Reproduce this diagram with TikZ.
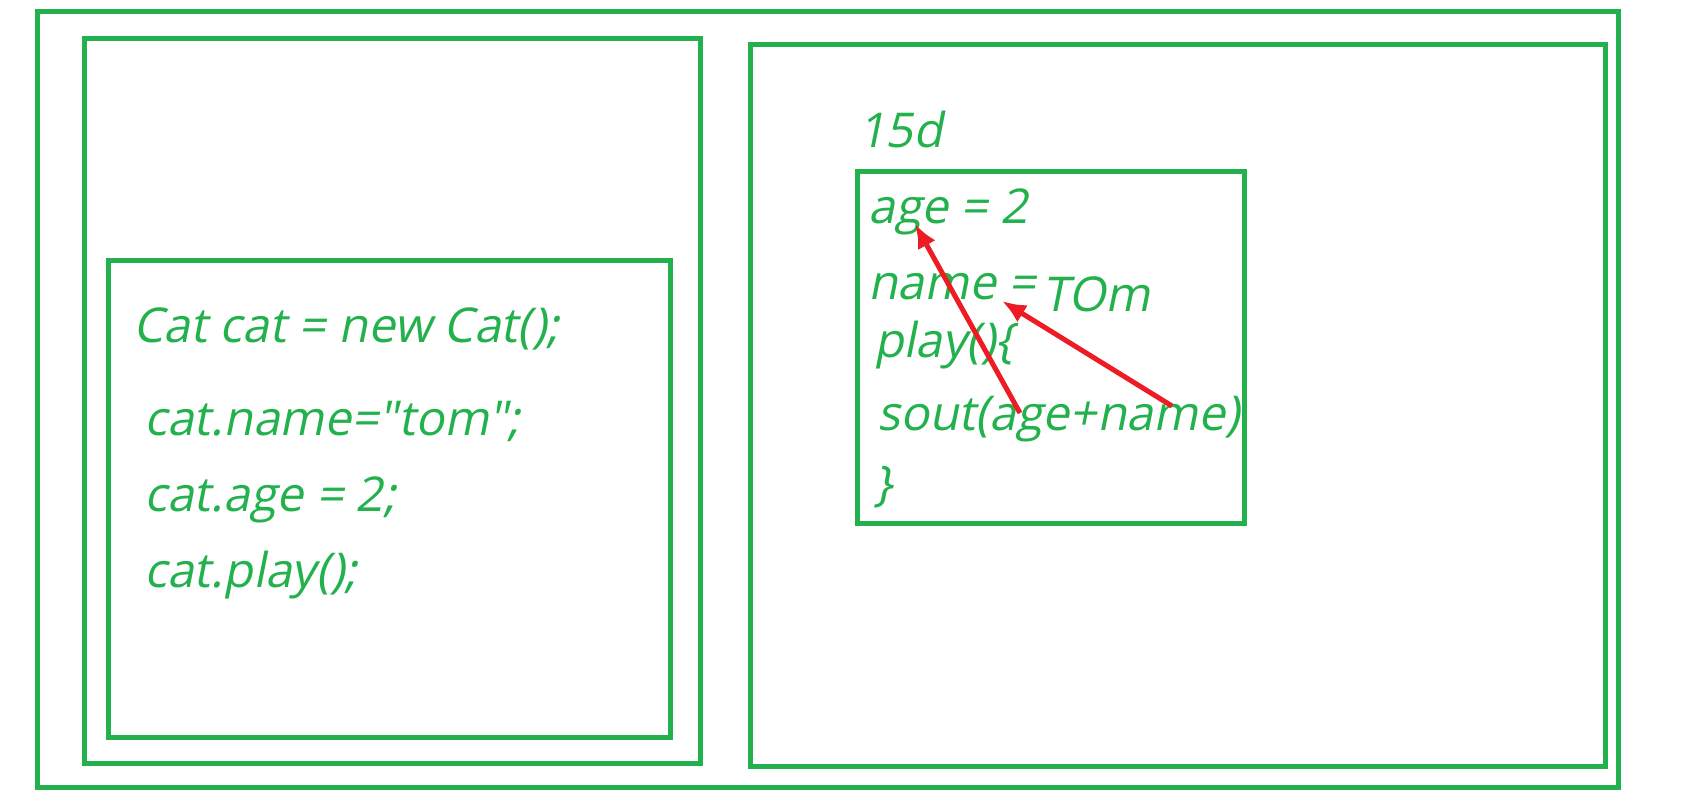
\documentclass[tikz,border=0pt]{standalone}
\usepackage{fontspec}
\setmainfont{Open Sans}[FakeSlant=0.2]
\usepackage{tikz}
\usetikzlibrary{arrows.meta}
\definecolor{boxgreen}{RGB}{34,177,76}
\definecolor{arrred}{RGB}{237,28,36}

\begin{document}
\begin{tikzpicture}[x=0.5pt,y=-0.5pt,
  frame/.style={draw=boxgreen,line width=2.5pt},
  code/.style={anchor=base west,inner sep=0pt,text=boxgreen,font=\fontsize{24}{28}\selectfont},
  ref/.style={draw=arrred,line width=2.5pt,-{Latex[length=12pt,width=10pt]}}]
\useasboundingbox (0,0) rectangle (1684,809);
% memory frames
\draw[frame] (37,11) rectangle (1618,787);
\draw[frame] (84,38) rectangle (700,763);
\draw[frame] (108,260) rectangle (670,737);
\draw[frame] (750,44) rectangle (1605,766);
\draw[frame] (857,171) rectangle (1244,523);
% main code
\node[code] (new) at (133,342) {Cat cat = new Cat();};
\node[code] (setname) at (144,435) {cat.name=\textquotedbl tom\textquotedbl;};
\node[code] (setage) at (144,511) {cat.age = 2;};
\node[code] (call) at (144,587) {cat.play();};
% object
\node[code] (addr) at (858,147) {15d};
\node[code] (age) at (868,223) {age = 2};
\node[code] (name) at (868,299) {name =};
\node[code] (tom) at (1042,311) {TOm};
\node[code] (play) at (874,357) {play()\{};
\node[code] (sout) at (877,430) {sout(age+name)};
\node[code] (close) at (874,500) {\}};
% field references
\coordinate (agefield) at (915,224);
\coordinate (namefield) at (1002,301);
\coordinate (useage) at (1020,413);
\coordinate (usename) at (1172,406);
\draw[ref] (useage) -- (agefield);
\draw[ref] (usename) -- (namefield);
\end{tikzpicture}
\end{document}
